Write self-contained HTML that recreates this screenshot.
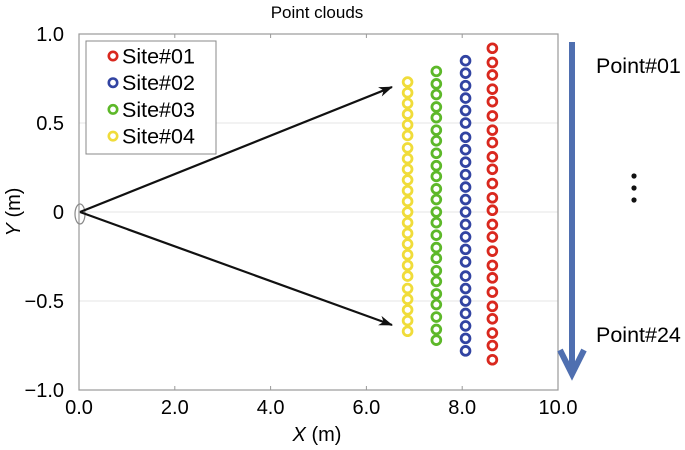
<!DOCTYPE html>
<html><head><meta charset="utf-8"><style>
body{margin:0;background:#fff;}
svg{display:block;font-family:"Liberation Sans",sans-serif;}
</style></head><body>
<svg id="chart" width="685" height="450" viewBox="0 0 685 450" xmlns="http://www.w3.org/2000/svg">
<defs>
<marker id="ah" markerWidth="14" markerHeight="10" refX="13" refY="5" orient="auto" markerUnits="userSpaceOnUse"><path d="M0,0 L14,5 L0,10 L4,5 Z" fill="#111"/></marker>
</defs>
<text x="317" y="18" font-size="17" text-anchor="middle">Point clouds</text>
<g id="grid"></g>
<rect x="79" y="34" width="479" height="356" fill="none" stroke="#999" stroke-width="1.2"/>
<g id="ticks"></g>
<text x="317" y="441" font-size="20" text-anchor="middle"><tspan font-style="italic">X</tspan> (m)</text>
<text transform="translate(20,212) rotate(-90)" font-size="20" text-anchor="middle"><tspan font-style="italic">Y</tspan> (m)</text>
<ellipse cx="80" cy="214" rx="5" ry="10" fill="none" stroke="#888" stroke-width="1.2"/>
<line x1="80" y1="212" x2="392" y2="87" stroke="#111" stroke-width="2.2" marker-end="url(#ah)"/>
<line x1="80" y1="212" x2="392" y2="325" stroke="#111" stroke-width="2.2" marker-end="url(#ah)"/>
<g id="points"></g>
<g>
<rect x="86" y="41" width="130" height="113" fill="#fff" stroke="#888" stroke-width="1"/>
<g id="legend-items"></g>
</g>
<g>
<line x1="572" y1="42" x2="572" y2="368" stroke="#4f6fb0" stroke-width="6"/>
<path d="M560,350 L572,374 L584,350" fill="none" stroke="#4f6fb0" stroke-width="6" stroke-linejoin="miter"/>
</g>
<text x="596" y="73" font-size="21.5">Point#01</text>
<text x="596" y="342" font-size="21.5">Point#24</text>
<g fill="#111">
<circle cx="634" cy="176" r="2.6"/><circle cx="634" cy="188" r="2.6"/><circle cx="634" cy="200" r="2.6"/>
</g>
</svg>
<script>
const siteNames = ["Site#01","Site#02","Site#03","Site#04"];
const siteColors = ["#d9281e","#3244a2","#5db829","#f0dc3a"];
const siteX = [8.63, 8.07, 7.46, 6.86];
const site01Y = [0.92,0.84,0.77,0.69,0.62,0.54,0.46,0.39,0.31,0.24,0.16,0.08,0.01,-0.07,-0.14,-0.22,-0.30,-0.37,-0.45,-0.53,-0.60,-0.68,-0.75,-0.83];
const site02Y = [0.85,0.78,0.71,0.64,0.57,0.50,0.42,0.35,0.28,0.21,0.14,0.07,0.00,-0.07,-0.14,-0.21,-0.28,-0.36,-0.43,-0.50,-0.57,-0.64,-0.71,-0.78];
const site03Y = [0.79,0.72,0.66,0.59,0.53,0.46,0.40,0.33,0.26,0.20,0.13,0.07,0.00,-0.06,-0.13,-0.20,-0.26,-0.33,-0.39,-0.46,-0.52,-0.59,-0.66,-0.72];
const site04Y = [0.73,0.67,0.61,0.55,0.49,0.43,0.36,0.30,0.24,0.18,0.12,0.06,0.00,-0.06,-0.12,-0.18,-0.24,-0.30,-0.36,-0.43,-0.49,-0.55,-0.61,-0.67];
const xTicks = [0,2,4,6,8,10];
const xTickLabels = ["0.0","2.0","4.0","6.0","8.0","10.0"];
const yTicks = [1,0.5,0,-0.5,-1];
const yTickLabels = ["1.0","0.5","0","\u22120.5","\u22121.0"];

const NS="http://www.w3.org/2000/svg";
const L=79,R=558,T=34,B=390;
function xs(v){return L+(v-0)/10*(R-L);}
function ys(v){return T+(1-v)/2*(B-T);}
function mk(tag,attrs,parent){const e=document.createElementNS(NS,tag);for(const k in attrs)e.setAttribute(k,attrs[k]);parent.appendChild(e);return e;}

const grid=document.getElementById('grid'), ticks=document.getElementById('ticks');
yTicks.forEach((v,i)=>{
  if(v<1&&v>-1){const g=mk('line',{x1:L,x2:R,y1:ys(v),y2:ys(v),stroke:'#e6e6e6','stroke-width':1},grid);
  
  }
  const t=mk('text',{x:64,y:ys(v)+7,'font-size':20,'text-anchor':'end'},ticks);
  t.textContent=yTickLabels[i];
  
  
});
xTicks.forEach((v,i)=>{
  mk('line',{x1:xs(v),x2:xs(v),y1:B,y2:B-4,stroke:'#999'},ticks);
  mk('line',{x1:xs(v),x2:xs(v),y1:T,y2:T+4,stroke:'#999'},ticks);
  const t=mk('text',{x:xs(v),y:414,'font-size':20,'text-anchor':'middle'},ticks);
  t.textContent=xTickLabels[i];
  
  
});
const series=[site01Y,site02Y,site03Y,site04Y];
const pts=document.getElementById('points');
series.forEach((arr,s)=>{
  arr.forEach((y,i)=>{
    const c=mk('circle',{cx:xs(siteX[s]),cy:ys(y),r:4.4,fill:'#fff',stroke:siteColors[s],'stroke-width':2.8},pts);
    
    
  });
});
const lg=document.getElementById('legend-items');
siteNames.forEach((n,i)=>{
  const cy=56+i*26.7;
  const c=mk('circle',{cx:113,cy:cy,r:4.2,fill:'#fff',stroke:siteColors[i],'stroke-width':2.6},lg);
  
  
  const t=mk('text',{x:122,y:cy+7.5,'font-size':21.5},lg);
  t.textContent=n;
  
  
});
</script>
</body></html>
